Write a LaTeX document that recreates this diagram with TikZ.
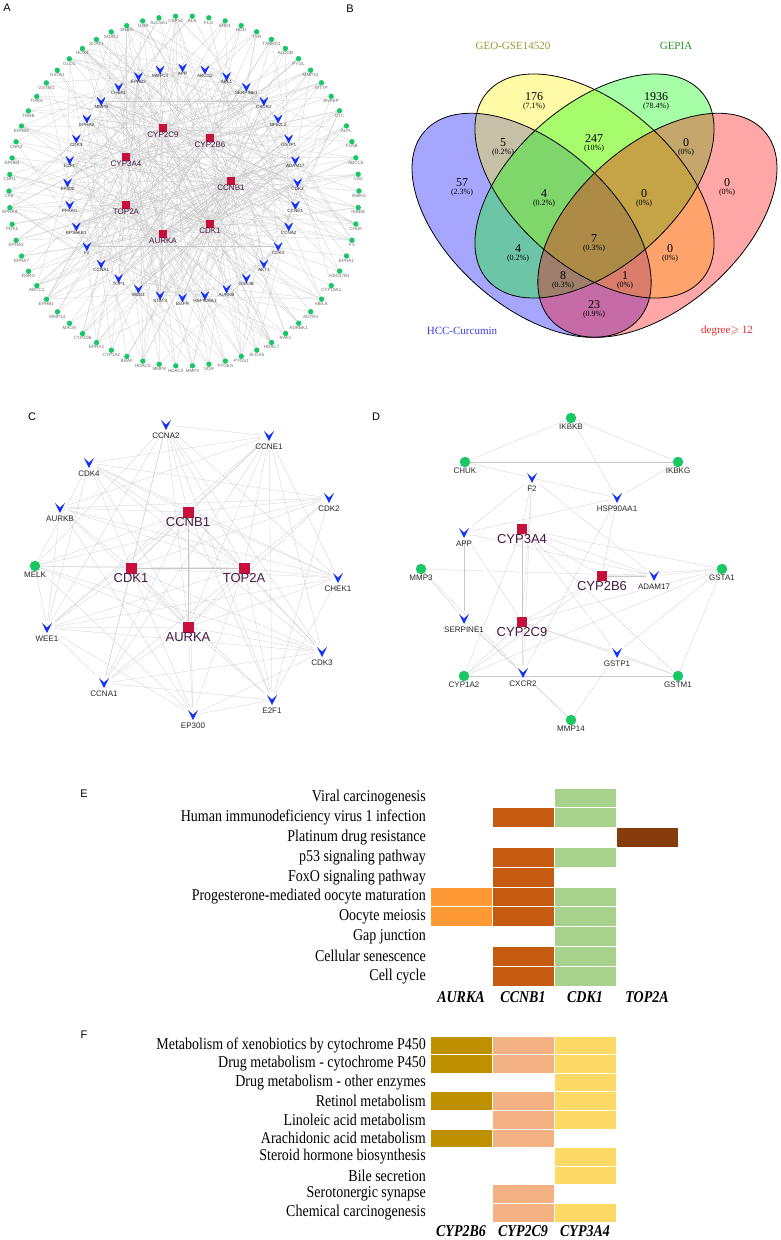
\documentclass[tikz,border=0pt]{standalone}
\usepackage{fontspec}
\setmainfont{Liberation Serif}
\setsansfont{Liberation Sans}
\usepackage{amssymb}
\usepackage{graphicx}
\usetikzlibrary{backgrounds}

\definecolor{ngreen}{RGB}{25,200,100}
\definecolor{nblue}{RGB}{20,50,250}
\definecolor{nred}{RGB}{200,15,60}
\definecolor{nlab}{RGB}{70,25,65}
\definecolor{lbgray}{RGB}{105,105,105}
\definecolor{lbdark}{RGB}{40,40,40}
\definecolor{edgegray}{RGB}{200,200,200}
\definecolor{geocol}{RGB}{150,150,50}
\definecolor{gepcol}{RGB}{40,140,40}
\definecolor{hcccol}{RGB}{60,60,230}
\definecolor{degcol}{RGB}{230,40,40}
\definecolor{e1}{RGB}{255,153,51}
\definecolor{e2}{RGB}{197,90,17}
\definecolor{e3}{RGB}{169,209,142}
\definecolor{e4}{RGB}{132,60,12}
\definecolor{f1}{RGB}{191,144,0}
\definecolor{f2}{RGB}{244,177,131}
\definecolor{f3}{RGB}{255,217,102}

\newcommand\tall[1]{\scalebox{1}[1.18]{#1}}

\tikzset{
    gnode/.style={circle, fill=ngreen, inner sep=0pt, minimum size=#1},
    rnode/.style={rectangle, fill=nred, inner sep=0pt, minimum size=#1},
    vnode/.style={rectangle, inner sep=0pt, minimum size=#1,
        path picture={\fill[nblue, shift={(path picture bounding box.center)}, scale=#1/11]
            (-5,-5) -- (0,-0.5) -- (5,-5) -- (0,5) -- cycle;}},
    aG/.style={gnode=5.4, label distance=3.6pt},
    aV/.style={vnode=8, label distance=4.3pt},
    aR/.style={rnode=7.5, label distance=3.4pt},
    cG/.style={gnode=10.5, label distance=4.8pt},
    cV/.style={vnode=15, label distance=6.4pt},
    cR/.style={rnode=11, label distance=6pt},
    dR/.style={rnode=10.5, label distance=7.5pt},
    gLab/.style={font=\sffamily\fontsize{4.6}{5}\selectfont, text=lbgray, inner sep=0pt},
    bLab/.style={font=\sffamily\fontsize{4.6}{5}\selectfont, text=lbdark, inner sep=0pt},
    rLab/.style={font=\sffamily\fontsize{8}{9}\selectfont, text=nlab, inner sep=0pt},
    cLab/.style={font=\sffamily\fontsize{8}{9}\selectfont, text=black!85, inner sep=0pt},
    cBig/.style={font=\sffamily\fontsize{13}{14}\selectfont, text=nlab, inner sep=0pt},
    panel/.style={font=\sffamily\fontsize{11}{12}\selectfont, inner sep=0pt},
    link/.style={draw=edgegray, line width=0.25pt},
    vnum/.style={font=\rmfamily\fontsize{12}{13}\selectfont, inner sep=0pt},
    vpct/.style={font=\rmfamily\fontsize{8}{9}\selectfont, inner sep=0pt},
    vcat/.style={font=\rmfamily\fontsize{11}{12}\selectfont, inner sep=0pt},
    rowtxt/.style={font=\rmfamily\fontsize{14}{15}\selectfont, inner sep=0pt, anchor=east},
    coltxt/.style={font=\rmfamily\bfseries\itshape\fontsize{14}{15}\selectfont, inner sep=0pt},
}

\begin{document}
\begin{tikzpicture}[x=1pt, y=-1pt]
    \useasboundingbox (0,0) rectangle (780,1240);

    % A: whole network
    \node[panel] at (7,8) {A};
    \foreach \g [count=\i] in {ALK,FLI1,ERN1,HGD,TYR,TXNRD1,ALDOB,PYGL,MMP12,MTTP,ANPEP,OTC,ALPL,FLNB,ABCC5,CA2,IKBKG,IKBKB,CHUK,F3,EPHA1,HSD17B1,CYP19A1,MELK,AGTR1,ADRBK1,RAF1,HDAC7,ALOX5,PTGS1,PTGES,VDR,MMP3,HDAC4,MMP8,HDAC5,BRAF,CYP1A2,EPHX2,CYP2D6,MAOA,MMP14,EPHB1,ABCC1,RARG,EPHA7,EPHA3,PDK1,EPHA4,CA9,CNR1,EPHB4,CNR2,EPHB3,THRB,THRA,GSTM1,GSTA1,GLO1,NOX4,SOAT1,SOAT2,SHBG,TLR9,SLC5A1,USP14} {
        \pgfmathsetmacro\ang{87.3-(\i-1)*5.454545}
        \node[aG, label={[gLab]below:\g}] (g\i) at ({184+175*cos(\ang)},{191-175*sin(\ang)}) {};
    }
    \foreach \b [count=\i] in {APP,ABCG2,ABL1,SERPINE1,CXCR2,NFE2L2,GSTP1,ADAM17,CDK2,CCNE1,CCNA2,CDK4,AKT1,GSK3B,AURKB,HSP90AA1,EGFR,STAT3,WEE1,TOP1,CCNA1,F2,RPS6KB1,PPARG,EP300,E2F1,CDK3,EPHA2,MMP9,CHEK1,EPHB2,MMP13} {
        \pgfmathsetmacro\ang{90-(\i-1)*11.25}
        \node[aV, label={[bLab]below:\b}] (b\i) at ({182.5+115*cos(\ang)},{182.5-115*sin(\ang)}) {};
    }
    \foreach \r/\x/\y in {CYP2C9/163/128,CYP2B6/210/138,CYP3A4/126/157,CCNB1/231/181,TOP2A/126/205,CDK1/210/224,AURKA/163/234}
        \node[aR, label={[rLab]below:\r}] (a\r) at (\x,\y) {};

    \begin{scope}[on background layer]
        \pgfmathsetseed{11}
        \foreach \r in {CYP2C9,CYP2B6,CYP3A4,CCNB1,TOP2A,CDK1,AURKA} {
            \foreach \j in {1,...,32} {
                \pgfmathparse{rnd}
                \ifdim\pgfmathresult pt < 0.5pt\relax
                    \draw[link] (a\r) -- (b\j);
                \fi
            }
            \foreach \j in {1,...,66} {
                \pgfmathparse{rnd}
                \ifdim\pgfmathresult pt < 0.3pt\relax
                    \draw[link] (a\r) -- (g\j);
                \fi
            }
        }
        \foreach \i in {1,...,32} {
            \foreach \j in {1,...,66} {
                \pgfmathparse{rnd}
                \ifdim\pgfmathresult pt < 0.06pt\relax
                    \draw[link] (b\i) -- (g\j);
                \fi
            }
        }
        \foreach \i in {1,...,31} {
            \pgfmathtruncatemacro\k{\i+1}
            \foreach \j in {\k,...,32} {
                \pgfmathparse{rnd}
                \ifdim\pgfmathresult pt < 0.1pt\relax
                    \draw[link] (b\i) -- (b\j);
                \fi
            }
        }
        \foreach \u/\v in {CYP2C9/CYP2B6,CYP2C9/CYP3A4,CYP2B6/CYP3A4,CCNB1/CDK1,CCNB1/TOP2A,CCNB1/AURKA,CDK1/TOP2A,CDK1/AURKA,TOP2A/AURKA}
            \draw[link] (a\u) -- (a\v);
    \end{scope}

    % B: Venn diagram
    \node[panel] at (350,9) {B};
    \begin{scope}[shift={(384.75,410)}, xscale=419.5, yscale=-393]
        \foreach \cx/\cy/\rot/\col in {0.35/0.47/45/blue,0.5/0.57/45/yellow,0.5/0.57/-45/green,0.65/0.47/-45/red}
            \fill[\col, fill opacity=0.35, shift={(\cx,\cy)}, rotate=\rot] (0,0) ellipse [x radius=0.35, y radius=0.2];
        \foreach \cx/\cy/\rot in {0.35/0.47/45,0.5/0.57/45,0.5/0.57/-45,0.65/0.47/-45}
            \draw[black, line width=0.8pt, shift={(\cx,\cy)}, rotate=\rot] (0,0) ellipse [x radius=0.35, y radius=0.2];
    \end{scope}
    \foreach \x/\y/\n/\p in {534/97/176/7.1,656/97/1936/78.4,503/143/5/0.2,594/139/247/10,686/143/0/0,462/183/57/2.3,544/194/4/0.2,644/194/0/0,727/183/0/0,594/239/7/0.3,518/249/4/0.2,670/249/0/0,563/276/8/0.3,625/276/1/0,594/305/23/0.9} {
        \node[vnum] at (\x,\y) {\n};
        \node[vpct] at (\x,\y+10) {(\p\%)};
    }
    \node[vcat, text=geocol] at (513,46) {GEO-GSE14520};
    \node[vcat, text=gepcol] at (676,46) {GEPIA};
    \node[vcat, text=hcccol] at (462,331) {HCC-Curcumin};
    \node[vcat, text=degcol] at (727,331) {degree$\geqslant$ 12};

    % C: AURKA, CCNB1, CDK1, TOP2A sub-network
    \node[panel] at (32,417) {C};
    \node[cV, label={[cLab]below:CCNA2}] (c1) at (166,425) {};
    \node[cV, label={[cLab]below:CCNE1}] (c2) at (269,436) {};
    \node[cV, label={[cLab]below:CDK2}] (c3) at (329,498) {};
    \node[cV, label={[cLab]below:CHEK1}] (c4) at (338,578) {};
    \node[cV, label={[cLab]below:CDK3}] (c5) at (322,652) {};
    \node[cV, label={[cLab]below:E2F1}] (c6) at (272,700) {};
    \node[cV, label={[cLab]below:EP300}] (c7) at (193,715) {};
    \node[cV, label={[cLab]below:CCNA1}] (c8) at (104,683) {};
    \node[cV, label={[cLab]below:WEE1}] (c9) at (47,628) {};
    \node[cG, label={[cLab]below:MELK}] (c10) at (35,566) {};
    \node[cV, label={[cLab]below:AURKB}] (c11) at (60,508) {};
    \node[cV, label={[cLab]below:CDK4}] (c12) at (89,463) {};
    \node[cR, label={[cBig]below:CCNB1}] (c13) at (188,512) {};
    \node[cR, label={[cBig]below:CDK1}] (c14) at (131,568) {};
    \node[cR, label={[cBig]below:TOP2A}] (c15) at (244,568) {};
    \node[cR, label={[cBig]below:AURKA}] (c16) at (188,627) {};
    \begin{scope}[on background layer]
        \pgfmathsetseed{5}
        \foreach \i in {1,...,15} {
            \pgfmathtruncatemacro\k{\i+1}
            \foreach \j in {\k,...,16} {
                \ifnum\j>12
                    \draw[link] (c\i) -- (c\j);
                \else
                    \pgfmathparse{rnd}
                    \ifdim\pgfmathresult pt < 0.55pt\relax
                        \draw[link] (c\i) -- (c\j);
                    \fi
                \fi
            }
        }
    \end{scope}

    % D: CYP2B6, CYP2C9, CYP3A4 sub-network
    \node[panel] at (376,417) {D};
    \node[cG, label={[cLab]below:IKBKB}] (d1) at (571,418) {};
    \node[cG, label={[cLab]below:CHUK}] (d2) at (465,462) {};
    \node[cG, label={[cLab]below:IKBKG}] (d3) at (678,462) {};
    \node[cV, label={[cLab]below:F2}] (d4) at (532,478) {};
    \node[cV, label={[cLab]below:HSP90AA1}] (d5) at (617,498) {};
    \node[cV, label={[cLab]below:APP}] (d6) at (464,533) {};
    \node[dR, label={[cBig]below:CYP3A4}] (d7) at (522,529) {};
    \node[cG, label={[cLab]below:MMP3}] (d8) at (421,569) {};
    \node[dR, label={[cBig]below:CYP2B6}] (d9) at (602,576) {};
    \node[cV, label={[cLab]below:ADAM17}] (d10) at (654,576) {};
    \node[cG, label={[cLab]below:GSTA1}] (d11) at (722,569) {};
    \node[cV, label={[cLab]below:SERPINE1}] (d12) at (464,619) {};
    \node[dR, label={[cBig]below:CYP2C9}] (d13) at (522,622) {};
    \node[cV, label={[cLab]below:GSTP1}] (d14) at (617,653) {};
    \node[cG, label={[cLab]below:CYP1A2}] (d15) at (464,676) {};
    \node[cV, label={[cLab]below:CXCR2}] (d16) at (523,673) {};
    \node[cG, label={[cLab]below:GSTM1}] (d17) at (678,676) {};
    \node[cG, label={[cLab]below:MMP14}] (d18) at (571,720) {};
    \begin{scope}[on background layer]
        \foreach \u/\v in {1/2,1/3,1/5,2/3,2/5,3/5,4/6,4/7,4/13,4/10,4/16,6/5,6/12,6/10,6/13,7/9,7/13,7/11,7/10,7/14,7/17,7/15,7/16,8/10,8/12,8/16,9/10,9/11,9/13,9/15,9/5,5/16,10/11,11/13,11/17,11/14,11/15,12/16,12/18,13/14,13/15,13/17,13/16,15/17,16/18,14/18,14/17}
            \draw[link] (d\u) -- (d\v);
    \end{scope}

    % E: KEGG pathways of AURKA, CCNB1, CDK1, TOP2A
    \node[panel] at (84,794) {E};
    \foreach \t [count=\i] in {Viral carcinogenesis,Human immunodeficiency virus 1 infection,Platinum drug resistance,p53 signaling pathway,FoxO signaling pathway,Progesterone-mediated oocyte maturation,Oocyte meiosis,Gap junction,Cellular senescence,Cell cycle}
        \node[rowtxt] (er\i) at (426,{778.1+19.8*\i}) {\tall{\t}};
    \foreach \r/\c in {1/3,2/2,2/3,3/4,4/2,4/3,5/2,6/1,6/2,6/3,7/1,7/2,7/3,8/3,9/2,9/3,10/2,10/3}
        \fill[e\c, draw=white, line width=0.8pt] ({430+62*(\c-1)},{788+19.8*(\r-1)}) rectangle +(62,19.8);
    \foreach \g [count=\c] in {AURKA,CCNB1,CDK1,TOP2A}
        \node[coltxt] at ({461+62*(\c-1)},997) {\tall{\g}};

    % F: KEGG pathways of CYP2B6, CYP2C9, CYP3A4
    \node[panel] at (84,1035) {F};
    \foreach \t [count=\i] in {Metabolism of xenobiotics by cytochrome P450,Drug metabolism - cytochrome P450,Drug metabolism - other enzymes,Retinol metabolism,Linoleic acid metabolism,Arachidonic acid metabolism,Steroid hormone biosynthesis,Bile secretion,Serotonergic synapse,Chemical carcinogenesis}
        \node[rowtxt] (fr\i) at (426,{1026.7+18.6*\i}) {\tall{\t}};
    \foreach \r/\c in {1/1,1/2,1/3,2/1,2/2,2/3,3/3,4/1,4/2,4/3,5/2,5/3,6/1,6/2,7/3,8/3,9/2,10/2,10/3}
        \fill[f\c, draw=white, line width=0.8pt] ({430+62*(\c-1)},{1036+18.6*(\r-1)}) rectangle +(62,18.6);
    \foreach \g [count=\c] in {CYP2B6,CYP2C9,CYP3A4}
        \node[coltxt] at ({461+62*(\c-1)},1231) {\tall{\g}};
\end{tikzpicture}
\end{document}
